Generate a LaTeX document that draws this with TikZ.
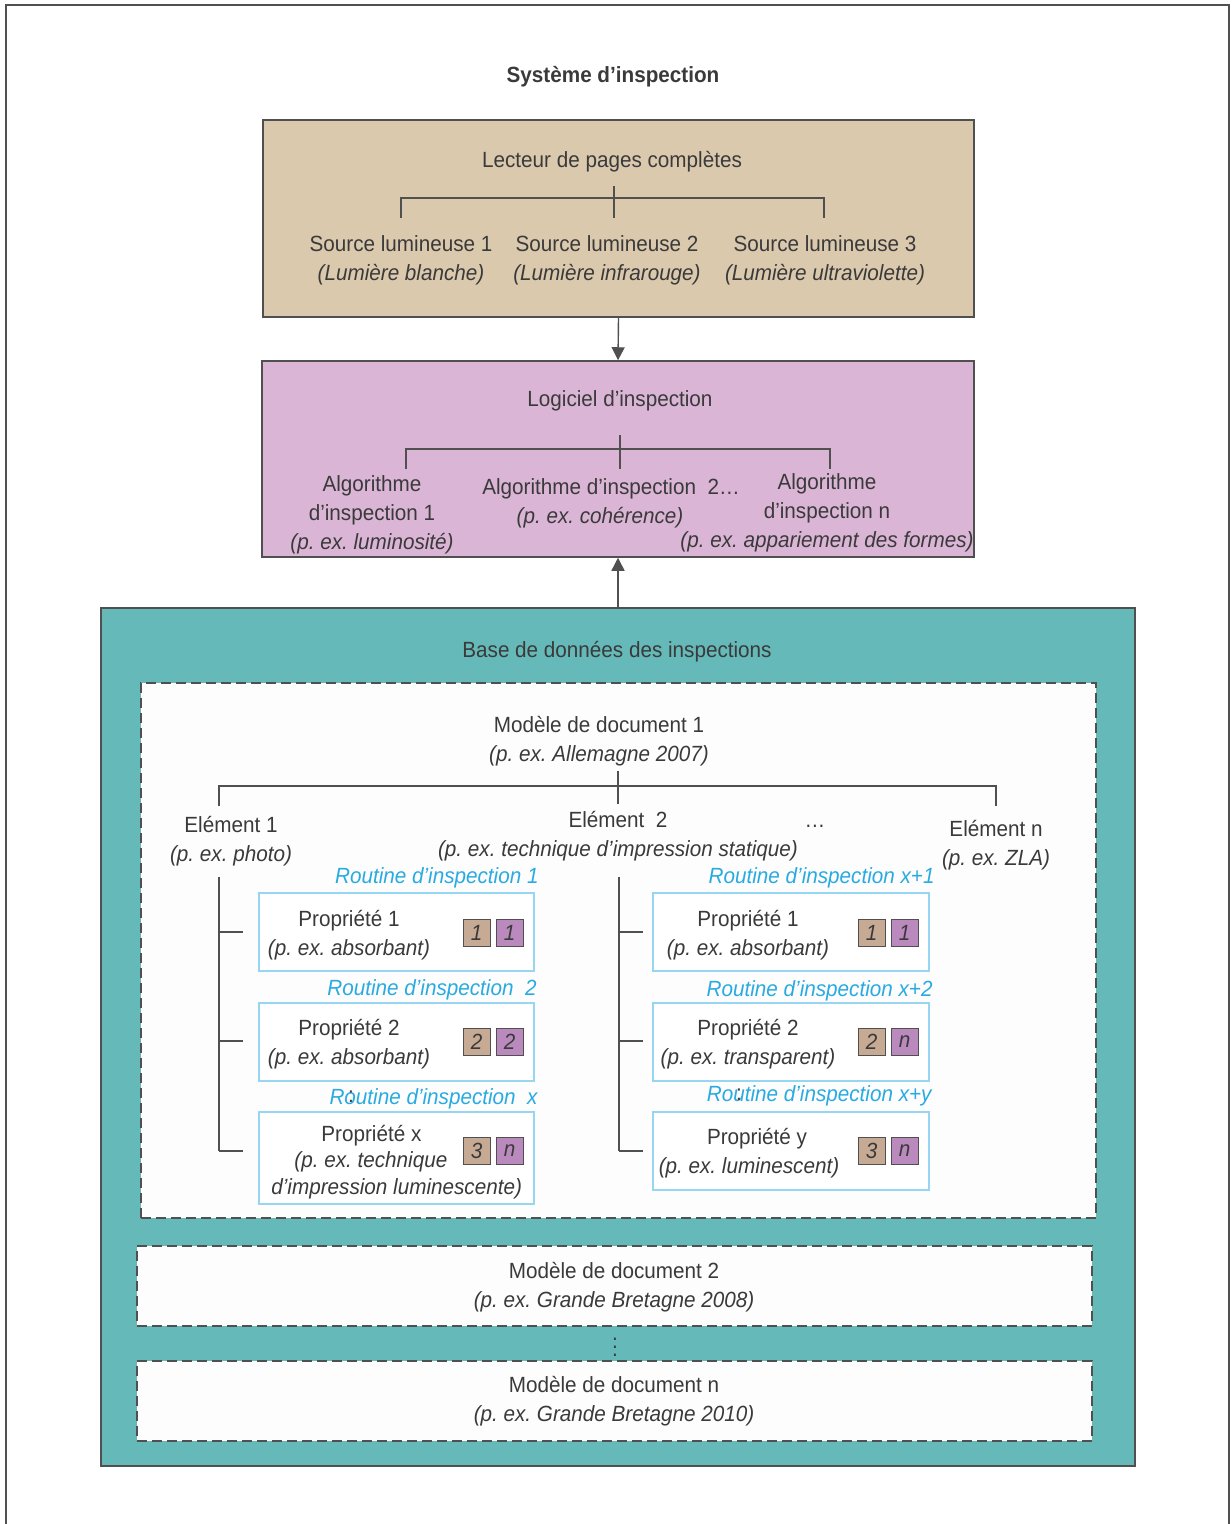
\documentclass[tikz,border=0pt]{standalone}
\usepackage{fontspec}
\setmainfont{Liberation Sans}[FakeStretch=0.94]
\usetikzlibrary{arrows.meta}
\frenchspacing

\definecolor{txt}{HTML}{3A3A3A}
\definecolor{trait}{HTML}{505050}
\definecolor{lecteur}{HTML}{DBC9AE}
\definecolor{logiciel}{HTML}{DBB5D6}
\definecolor{base}{HTML}{65B9B9}
\definecolor{blanc}{HTML}{FDFDFD}
\definecolor{bleu}{HTML}{29ABE2}
\definecolor{bordprop}{HTML}{96D6F2}
\definecolor{carretan}{HTML}{C7AA94}
\definecolor{carremauve}{HTML}{BA8ABF}

\tikzset{
  boite/.style={draw=trait, line width=0.75pt, inner sep=0pt},
  modele/.style={draw=trait, line width=0.6pt, dash pattern=on 5pt off 2.5pt, fill=blanc, inner sep=0pt, minimum width=477.5pt},
  texte/.style={align=center, text=txt, inner sep=0pt, font=\fontsize{11}{14.5}\selectfont},
  routine/.style={anchor=east, text=bleu, inner sep=0pt, font=\fontsize{11}{14.5}\selectfont\itshape},
  propriete/.style={draw=bordprop, line width=1pt, fill=white, inner sep=0pt},
  carre/.style={draw=trait, line width=0.5pt, minimum size=13.5pt, inner sep=0pt, text=txt, font=\fontsize{11}{13}\selectfont\itshape},
  trait/.style={draw=trait, line width=0.6pt},
  fleche/.style={draw=trait, line width=0.7pt, -{Triangle[length=6.5pt,width=6.5pt]}}
}

\begin{document}
\begin{tikzpicture}[x=0.5pt,y=-0.5pt]
  \useasboundingbox (0,0) rectangle (1231,1524);

  % cadre
  \draw[draw=trait, line width=1pt] (6,1524) |- (1229,5) -- (1229,1524);

  \node[texte, font=\fontsize{11}{14.5}\selectfont\bfseries] (titre) at (613,77) {Système d’inspection};

  % lecteur de pages
  \node[boite, fill=lecteur, minimum width=355.5pt, minimum height=98.5pt] (lecteur) at (618.5,218.5) {};
  \node[texte] (lecteur-t) at (612,162) {Lecteur de pages complètes};
  \node[texte] (src1) at (401,260) {Source lumineuse 1\\\textit{(Lumière blanche)}};
  \node[texte] (src2) at (607,260) {Source lumineuse 2\\\textit{(Lumière infrarouge)}};
  \node[texte] (src3) at (825,260) {Source lumineuse 3\\\textit{(Lumière ultraviolette)}};

  \coordinate (lb) at (614,186);
  \coordinate (lb1) at (401,218);
  \coordinate (lb3) at (824,218);
  \draw[trait] (lb) -- ++(0,32);
  \draw[trait] (lb1) -- ++(0,-20) -| (lb3);

  % logiciel
  \node[boite, fill=logiciel, minimum width=356pt, minimum height=98pt] (logiciel) at (618,459) {};
  \node[texte] (logiciel-t) at (620,401) {Logiciel d’inspection};
  \node[texte] (algo1) at (372,515) {Algorithme\\d’inspection 1\\\textit{(p. ex. luminosité)}};
  \node[texte] (algo2) at (611,503) {Algorithme d’inspection\ \ 2…\\\textit{(p. ex. cohérence)}\hspace*{11pt}};
  \node[texte] (algon) at (827,513) {Algorithme\\d’inspection n\\\textit{(p. ex. appariement des formes)}};

  \coordinate (ab) at (620,435);
  \coordinate (ab1) at (406,469);
  \coordinate (ab3) at (830,469);
  \draw[trait] (ab) -- ++(0,34);
  \draw[trait] (ab1) -- ++(0,-20) -| (ab3);

  % base de donnees
  \node[boite, fill=base, minimum width=517pt, minimum height=429pt] (base) at (618,1037) {};
  \node[texte] (base-t) at (617,652) {Base de données des inspections};

  \draw[fleche] (lecteur.south) -- (logiciel.north);
  \draw[fleche] (base.north) -- (logiciel.south);

  % modele 1
  \node[modele, minimum height=267.5pt] (modele1) at (618.5,950.5) {};
  \node[texte] (modele1-t) at (599,741) {Modèle de document 1\\\textit{(p. ex. Allemagne 2007)}};

  \node[texte] (elem1) at (231,841) {Elément 1\\\textit{(p. ex. photo)}};
  \node[texte] (elem2) at (618,836) {Elément\ \ 2\\\textit{(p. ex. technique d’impression statique)}};
  \node[texte] (etc) at (815,826) {…};
  \node[texte] (elemn) at (996,845) {Elément n\\\textit{(p. ex. ZLA)}};

  \coordinate (eb) at (618,771);
  \coordinate (eb1) at (219,806);
  \coordinate (eb3) at (996,806);
  \draw[trait] (eb) -- ++(0,33);
  \draw[trait] (eb1) -- ++(0,-20) -| (eb3);

  % routines
  \coordinate (rg) at (219,877);
  \coordinate (rd) at (619,877);
  \draw[trait] (rg) -- ++(0,274);
  \draw[trait] (rd) -- ++(0,274);
  \foreach \y in {932,1041,1151} {
    \draw[trait] (219,\y) -- ++(24,0);
    \draw[trait] (619,\y) -- ++(24,0);
  }

  \node[propriete, minimum width=137.5pt, minimum height=39pt] (pg1) at (396.5,932) {};
  \node[propriete, minimum width=137.5pt, minimum height=39pt] (pg2) at (396.5,1042) {};
  \node[propriete, minimum width=137.5pt, minimum height=46pt] (pg3) at (396.5,1158) {};
  \node[propriete, minimum width=138pt, minimum height=39pt] (pd1) at (791,932) {};
  \node[propriete, minimum width=138pt, minimum height=39pt] (pd2) at (791,1042) {};
  \node[propriete, minimum width=138pt, minimum height=39pt] (pd3) at (791,1151) {};

  \node[routine] (rout1) at (539,878) {Routine d’inspection 1};
  \node[routine] (rout2) at (537,990) {Routine d’inspection\ \ 2};
  \node[routine] (routx) at (538,1099) {Routine d’inspection\ \ x};
  \node[routine] (routx1) at (935,878) {Routine d’inspection x+1};
  \node[routine] (routx2) at (933,991) {Routine d’inspection x+2};
  \node[routine] (routxy) at (932,1096) {Routine d’inspection x+y};
  \node[texte] (pts1) at (351,1097) {:};
  \node[texte] (pts2) at (739,1095) {:};

  \node[texte] (propg1) at (349,935) {Propriété 1\\\textit{(p. ex. absorbant)}};
  \node[texte] (propg2) at (349,1044) {Propriété 2\\\textit{(p. ex. absorbant)}};
  \node[texte, align=left, anchor=west, font=\fontsize{11}{13.25}\selectfont] (propg3) at (271,1162)
    {\hspace*{25pt}Propriété x\\\hspace*{11.5pt}\textit{(p. ex. technique}\\\textit{d’impression luminescente)}};
  \node[texte] (propd1) at (748,935) {Propriété 1\\\textit{(p. ex. absorbant)}};
  \node[texte] (propd2) at (748,1044) {Propriété 2\\\textit{(p. ex. transparent)}};
  \node[texte] (propd3) at (749,1153) {\hspace*{8pt}Propriété y\\\textit{(p. ex. luminescent)}};

  \foreach \cx/\cy/\ta/\tb [count=\i] in {476.5/932.5/1/1, 476.5/1042/2/2, 476.5/1151/3/n,
      871.5/932.5/1/1, 871.5/1042/2/n, 871.5/1151/3/n} {
    \node[carre, fill=carretan] (ct\i) at (\cx,\cy) {\ta};
    \node[carre, fill=carremauve] (cm\i) at (\cx+33,\cy) {\tb};
  }

  % modeles 2 et n
  \node[modele, minimum height=40pt] (modele2) at (614.5,1286) {};
  \node[texte] (modele2-t) at (614,1287) {Modèle de document 2\\\textit{(p. ex. Grande Bretagne 2008)}};
  \node[texte] (vpts) at (615,1341) {\vdots};
  \node[modele, minimum height=40pt] (modelen) at (614.5,1401) {};
  \node[texte] (modelen-t) at (614,1401) {Modèle de document n\\\textit{(p. ex. Grande Bretagne 2010)}};
\end{tikzpicture}
\end{document}
